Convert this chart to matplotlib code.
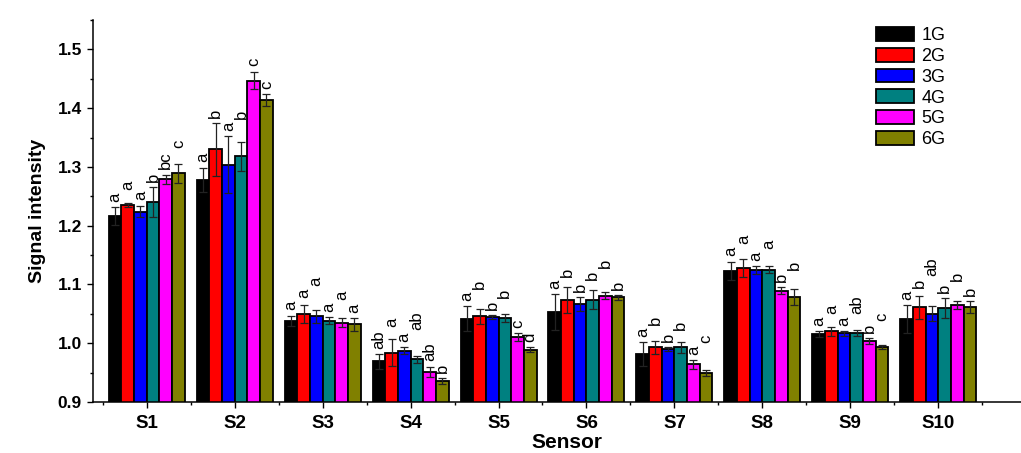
import numpy as np
import matplotlib.pyplot as plt

plt.rcParams['font.family'] = ['Liberation Sans', 'DejaVu Sans']

sensors = ["S1", "S2", "S3", "S4", "S5", "S6", "S7", "S8", "S9", "S10"]
groups = ["1G", "2G", "3G", "4G", "5G", "6G"]
colors = ["#000000", "#ff0000", "#0000ff", "#008080", "#ff00ff", "#808000"]

# mean signal per group (rows) and sensor (columns)
g1 = [1.217, 1.278, 1.038, 0.969, 1.042, 1.053, 0.982, 1.123, 1.016, 1.041]
g2 = [1.235, 1.330, 1.050, 0.984, 1.046, 1.074, 0.993, 1.128, 1.020, 1.061]
g3 = [1.224, 1.304, 1.046, 0.987, 1.045, 1.066, 0.990, 1.124, 1.017, 1.050]
g4 = [1.240, 1.318, 1.038, 0.973, 1.043, 1.074, 0.993, 1.125, 1.017, 1.060]
g5 = [1.279, 1.447, 1.035, 0.951, 1.010, 1.081, 0.964, 1.089, 1.004, 1.065]
g6 = [1.289, 1.414, 1.032, 0.935, 0.989, 1.078, 0.949, 1.079, 0.994, 1.062]

e1 = [0.015, 0.021, 0.009, 0.012, 0.021, 0.030, 0.020, 0.016, 0.005, 0.024]
e2 = [0.004, 0.045, 0.015, 0.023, 0.013, 0.022, 0.011, 0.015, 0.007, 0.020]
e3 = [0.010, 0.048, 0.011, 0.006, 0.003, 0.012, 0.003, 0.007, 0.004, 0.013]
e4 = [0.025, 0.025, 0.006, 0.006, 0.007, 0.016, 0.009, 0.006, 0.005, 0.017]
e5 = [0.008, 0.015, 0.008, 0.009, 0.007, 0.006, 0.007, 0.006, 0.005, 0.007]
e6 = [0.016, 0.010, 0.011, 0.005, 0.004, 0.004, 0.005, 0.014, 0.003, 0.010]

# significance letters, per sensor, for 1G..6G
letters = [
    ["a", "a", "a", "b", "bc", "c"],
    ["a", "b", "a", "b", "c", "c"],
    ["a", "a", "a", "a", "a", "a"],
    ["ab", "a", "a", "ab", "ab", "b"],
    ["a", "b", "b", "b", "c", "d"],
    ["a", "b", "b", "b", "b", "b"],
    ["a", "b", "b", "b", "a", "c"],
    ["a", "a", "a", "a", "b", "b"],
    ["a", "a", "a", "ab", "b", "c"],
    ["a", "b", "ab", "b", "b", "b"],
]

means = [g1, g2, g3, g4, g5, g6]
errs = [e1, e2, e3, e4, e5, e6]

fig = plt.figure(figsize=(10.21, 4.53), dpi=100)
ax = fig.add_axes([93/1021, 1-402/453, 1-93/1021, (402-20)/453])

x = np.arange(1, len(sensors)+1)
w = 0.144
for j in range(len(groups)):
    xs = x + (j-2.5)*w
    ax.bar(xs, means[j], w, bottom=0, color=colors[j], edgecolor="black",
           linewidth=1.3, label=groups[j], zorder=2)
    ax.errorbar(xs, means[j], yerr=errs[j], fmt="none", ecolor="#222222",
                elinewidth=0.9, capsize=3, capthick=0.9, zorder=3)

# letters above the error bars, staggered so neighbours don't collide
for i in range(len(sensors)):
    prev = None
    for j in range(len(groups)):
        xpos = x[i] + (j-2.5)*w
        lab = letters[i][j]
        lo = means[j][i] + errs[j][i] + 0.009
        h = 0.0165*len(lab) + 0.002
        if prev is not None and lo < prev[1] and lo + h > prev[0]:
            lo = prev[1] + 0.002
        ax.text(xpos, lo, lab, rotation=90, ha="center", va="bottom",
                fontsize=12)
        prev = (lo, lo + h)

ax.set_xlim(0.39, 10.94)
ax.set_ylim(0.9, 1.55)
ax.set_xticks(x)
ax.set_xticklabels(sensors, fontsize=13.5, fontweight="bold")
ax.set_xticks(np.arange(0.5, 11, 1), minor=True)
ax.set_yticks([0.9, 1.0, 1.1, 1.2, 1.3, 1.4, 1.5])
ax.set_yticklabels(["0.9", "1.0", "1.1", "1.2", "1.3", "1.4", "1.5"],
                   fontsize=12.5, fontweight="bold")
ax.set_yticks(np.arange(0.95, 1.56, 0.1), minor=True)
ax.tick_params(which="major", direction="out", length=4, width=1, pad=4)
ax.tick_params(which="minor", direction="out", length=2.4, width=1)
ax.tick_params(axis="x", which="major", pad=5)

for s in ["top", "right"]:
    ax.spines[s].set_visible(False)
for s in ["left", "bottom"]:
    ax.spines[s].set_linewidth(1.1)

ax.set_xlabel("Sensor", fontsize=15, fontweight="bold")
ax.xaxis.set_label_coords((566.7-93)/928, -(443-402)/382, transform=ax.transAxes)
ax.xaxis.label.set_va("center")
ax.set_ylabel("Signal intensity", fontsize=14, fontweight="bold", labelpad=8)

ax.legend(loc="upper left", bbox_to_anchor=(876/1021, 1-27/453),
          bbox_transform=fig.transFigure, frameon=False, fontsize=13,
          handlelength=2.1, handleheight=0.8, labelspacing=0.2,
          handletextpad=0.4, borderpad=0, borderaxespad=0)

fig.savefig("out.png", dpi=100)
